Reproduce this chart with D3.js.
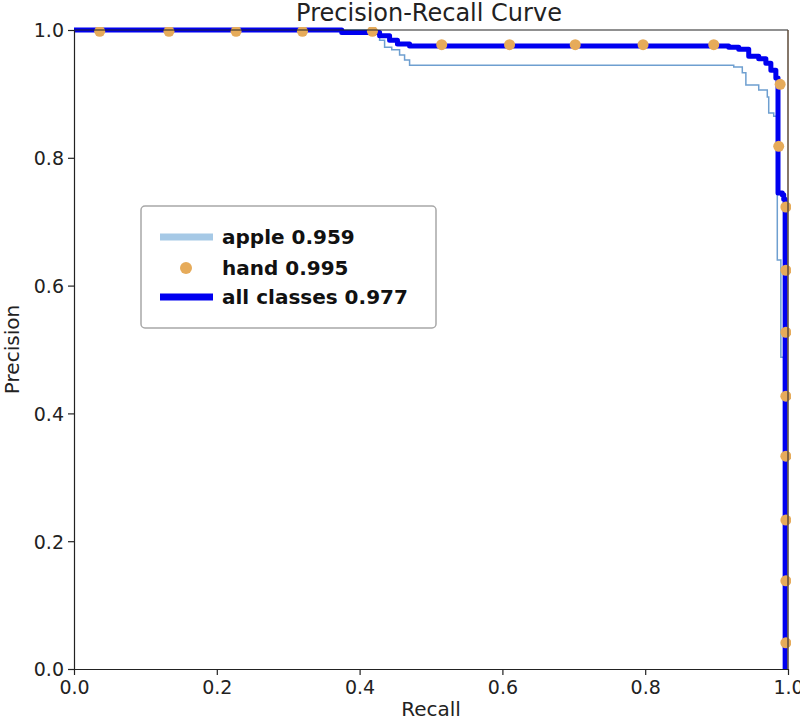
<!DOCTYPE html>
<html>
<head>
<meta charset="utf-8">
<script src="https://cdn.jsdelivr.net/npm/d3@7"></script>
<style>
  html, body { margin: 0; padding: 0; background: #fff; }
  svg { display: block; }
  text { font-family: "DejaVu Sans", sans-serif; }
</style>
</head>
<body>
<script>
// ---- data ----
const xTicks = [0.0, 0.2, 0.4, 0.6, 0.8, 1.0];
const yTicks = [0.0, 0.2, 0.4, 0.6, 0.8, 1.0];
const seriesNames = ["apple 0.959", "hand 0.995", "all classes 0.977"];

const appleRecall    = [0.000, 0.421, 0.428, 0.435, 0.445, 0.456, 0.463, 0.470, 0.901, 0.924, 0.936, 0.941, 0.959, 0.971, 0.973, 0.980, 0.985, 0.990, 0.990, 0.994, 0.996];
const applePrecision = [1.000, 0.998, 0.984, 0.973, 0.969, 0.961, 0.953, 0.945, 0.945, 0.942, 0.933, 0.914, 0.906, 0.895, 0.870, 0.865, 0.640, 0.635, 0.488, 0.483, 0.000];

const allRecall    = [0.000, 0.375, 0.375, 0.421, 0.428, 0.442, 0.453, 0.470, 0.899, 0.917, 0.931, 0.945, 0.959, 0.969, 0.976, 0.983, 0.986, 0.986, 0.992, 0.994, 0.996];
const allPrecision = [1.000, 0.999, 0.996, 0.996, 0.991, 0.984, 0.978, 0.975, 0.975, 0.973, 0.970, 0.959, 0.955, 0.948, 0.937, 0.925, 0.906, 0.745, 0.742, 0.735, 0.000];

const handRecall    = [0.036, 0.133, 0.227, 0.320, 0.418, 0.515, 0.610, 0.702, 0.797, 0.896, 0.989, 0.987, 0.997, 0.997, 0.997, 0.997, 0.997, 0.997, 0.997, 0.997];
const handPrecision = [0.998, 0.998, 0.998, 0.998, 0.998, 0.977, 0.977, 0.977, 0.977, 0.977, 0.915, 0.818, 0.723, 0.624, 0.527, 0.427, 0.333, 0.233, 0.138, 0.041];

// ---- layout ----
const W = 800, H = 723;
const m = { left: 74, right: 12, top: 30, bottom: 54 };
const pw = W - m.left - m.right, ph = H - m.top - m.bottom;

const svg = d3.select("body").append("svg").attr("width", W).attr("height", H);
const x = d3.scaleLinear().domain([0, 1]).range([m.left, m.left + pw]);
const y = d3.scaleLinear().domain([0, 1]).range([m.top + ph, m.top]);

const colApple = "#6e9fd0", colAppleLeg = "#a6c9e6", colHand = "#e6ab5a", colAll = "#0000f0";

svg.append("defs").append("clipPath").attr("id", "clip")
  .append("rect").attr("x", m.left - 3).attr("y", m.top - 3).attr("width", pw + 6).attr("height", ph + 6);

const g = svg.append("g").attr("clip-path", "url(#clip)");
const line = d3.line().x(d => x(d[0])).y(d => y(d[1])).curve(d3.curveStepAfter);

g.append("path").datum(d3.zip(appleRecall, applePrecision))
  .attr("d", line).attr("fill", "none").attr("stroke", colApple).attr("stroke-width", 1.5);

// top & right spine (under the thick curve)
svg.append("line").attr("x1", m.left).attr("x2", m.left + pw).attr("y1", m.top).attr("y2", m.top)
  .attr("stroke", "#222").attr("stroke-width", 1.2);
svg.append("line").attr("x1", m.left + pw).attr("x2", m.left + pw).attr("y1", m.top).attr("y2", m.top + ph)
  .attr("stroke", "#5c4a38").attr("stroke-width", 1.5);

g.append("path").datum(d3.zip(allRecall, allPrecision))
  .attr("d", line).attr("fill", "none").attr("stroke", colAll).attr("stroke-width", 5)
  .attr("stroke-linejoin", "round");

g.selectAll("circle.hand").data(d3.zip(handRecall, handPrecision)).enter()
  .append("circle").attr("class", "hand")
  .attr("cx", d => x(d[0])).attr("cy", d => y(d[1])).attr("r", 5.5).attr("fill", colHand);

// axes
const xAxis = svg.append("g").attr("transform", `translate(0,${m.top + ph})`)
  .call(d3.axisBottom(x).tickValues(xTicks).tickFormat(d3.format(".1f")).tickSize(6).tickSizeOuter(0));
const yAxis = svg.append("g").attr("transform", `translate(${m.left},0)`)
  .call(d3.axisLeft(y).tickValues(yTicks).tickFormat(d3.format(".1f")).tickSize(6).tickSizeOuter(0));
[xAxis, yAxis].forEach(a => {
  a.selectAll("path.domain").attr("stroke", "#222").attr("stroke-width", 1.2);
  a.selectAll(".tick line").attr("stroke", "#222").attr("stroke-width", 1.2);
  a.selectAll(".tick text").attr("font-family", "DejaVu Sans, sans-serif").attr("font-size", 19).attr("fill", "#222");
});
xAxis.selectAll(".tick text").attr("y", 9).attr("dy", "0.85em");
yAxis.selectAll(".tick text").attr("x", -10).attr("dy", "0.36em");

// titles
svg.append("text").attr("x", m.left + pw / 2 - 2).attr("y", 21).attr("text-anchor", "middle")
  .attr("font-size", 24).attr("fill", "#222").text("Precision-Recall Curve");
svg.append("text").attr("x", m.left + pw / 2).attr("y", 716).attr("text-anchor", "middle")
  .attr("font-size", 20).attr("fill", "#222").text("Recall");
svg.append("text").attr("transform", `translate(19,${m.top + ph / 2}) rotate(-90)`).attr("text-anchor", "middle")
  .attr("font-size", 20).attr("fill", "#222").text("Precision");

// legend
const lg = svg.append("g");
lg.append("rect").attr("x", 141).attr("y", 206).attr("width", 295).attr("height", 122).attr("rx", 4)
  .attr("fill", "#fff").attr("stroke", "#a8a8a8").attr("stroke-width", 1.5);
const rows = [237, 268, 297];
lg.append("line").attr("x1", 160).attr("x2", 213).attr("y1", rows[0]).attr("y2", rows[0])
  .attr("stroke", colAppleLeg).attr("stroke-width", 7);
lg.append("circle").attr("cx", 186).attr("cy", rows[1]).attr("r", 6).attr("fill", colHand);
lg.append("line").attr("x1", 160).attr("x2", 213).attr("y1", rows[2]).attr("y2", rows[2])
  .attr("stroke", colAll).attr("stroke-width", 7);
lg.selectAll("text.leg").data(seriesNames).enter().append("text").attr("class", "leg")
  .attr("x", 222).attr("y", (d, i) => rows[i] + 7).attr("font-size", 20).attr("font-weight", "bold")
  .attr("fill", "#111").text(d => d);
</script>
</body>
</html>
